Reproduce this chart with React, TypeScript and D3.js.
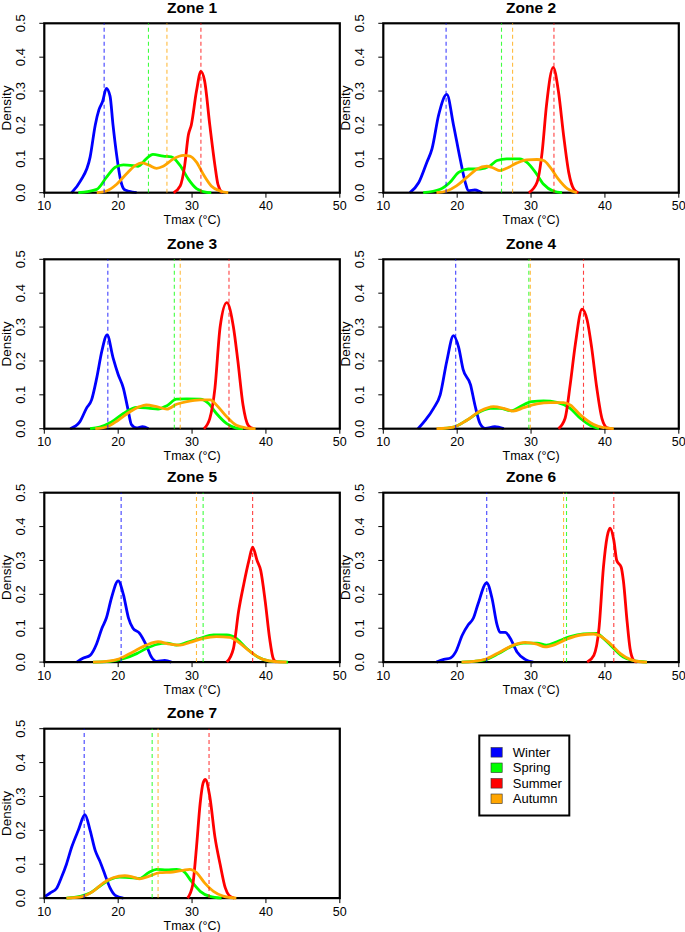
import React from 'react';
import * as d3 from 'd3';

type Pt = [number, number];

const zones = ['Zone 1', 'Zone 2', 'Zone 3', 'Zone 4', 'Zone 5', 'Zone 6', 'Zone 7'];
const seasons = ['Winter', 'Spring', 'Summer', 'Autumn'];
const seasonColors = ['#0000FF', '#00FF00', '#FF0000', '#FFA500'];
const xTicks = [10, 20, 30, 40, 50];
const yTicks = [0, 0.1, 0.2, 0.3, 0.4, 0.5];

// density curves, one list per zone
const winterDensity: Pt[][] = [
    [[13.7, 0], [14.9, 0.035], [16.2, 0.105], [16.9, 0.2], [17.4, 0.245], [17.9, 0.27], [18.4, 0.308], [18.9, 0.285], [19.3, 0.2], [19.8, 0.11], [20.3, 0.04], [20.8, 0.01], [21.5, 0.004], [22.5, 0]],
    [[13.6, 0], [14.8, 0.03], [15.9, 0.09], [16.6, 0.13], [17.5, 0.23], [18.6, 0.29], [19.5, 0.2], [20.4, 0.1], [21.1, 0.03], [21.5, 0.006], [22.4, 0.008], [23.1, 0.003], [23.4, 0]],
    [[13.5, 0], [14.8, 0.02], [15.7, 0.06], [16.4, 0.085], [17.1, 0.15], [17.8, 0.23], [18.5, 0.277], [19.3, 0.21], [20, 0.16], [20.7, 0.12], [21.3, 0.06], [21.8, 0.012], [22.5, 0.002], [23.3, 0.006], [24.1, 0]],
    [[14.7, 0], [15.7, 0.025], [16.8, 0.06], [17.7, 0.1], [18.6, 0.2], [19.5, 0.275], [20.2, 0.24], [20.8, 0.175], [21.8, 0.13], [22.4, 0.07], [23.1, 0.015], [23.8, 0.001], [25.1, 0.006], [26.3, 0]],
    [[14.4, 0], [15.3, 0.012], [16.2, 0.02], [17.1, 0.055], [17.8, 0.1], [18.4, 0.13], [19.1, 0.19], [20, 0.24], [20.7, 0.2], [21.4, 0.13], [22, 0.1], [22.9, 0.085], [23.8, 0.05], [24.5, 0.015], [25.2, 0.002], [26.3, 0.005], [27.2, 0]],
    [[17.2, 0], [18.2, 0.008], [19.1, 0.012], [19.8, 0.03], [20.7, 0.08], [21.5, 0.11], [22.2, 0.13], [22.8, 0.17], [24, 0.234], [24.7, 0.19], [25.4, 0.11], [25.8, 0.088], [26.5, 0.088], [27.2, 0.07], [28.1, 0.03], [29.2, 0.008], [30.3, 0]],
    [[10.1, 0.005], [10.8, 0.015], [11.7, 0.03], [12.3, 0.06], [13, 0.1], [13.7, 0.15], [14.6, 0.2], [15.5, 0.246], [16.2, 0.2], [16.9, 0.14], [17.5, 0.11], [18.2, 0.07], [18.9, 0.03], [19.6, 0.008], [20.7, 0]],
];

const springDensity: Pt[][] = [
    [[14.6, 0], [17.1, 0.01], [18.4, 0.045], [19.6, 0.075], [20.7, 0.082], [22, 0.08], [22.7, 0.078], [23.8, 0.1], [24.7, 0.113], [26.1, 0.108], [27.2, 0.106], [28.4, 0.08], [29.5, 0.04], [30.6, 0.012], [32, 0.001], [32.6, 0]],
    [[15.4, 0], [17.7, 0.01], [19, 0.03], [20.2, 0.06], [21.5, 0.07], [23.1, 0.07], [24.5, 0.08], [25.4, 0.095], [26.7, 0.1], [28.5, 0.1], [29.4, 0.09], [30.6, 0.06], [31.7, 0.025], [33, 0.005], [34.2, 0]],
    [[16.2, 0], [17.5, 0.005], [19.1, 0.02], [20.7, 0.045], [22.5, 0.063], [24.3, 0.06], [25.4, 0.058], [26.6, 0.068], [27.9, 0.087], [29.3, 0.088], [31.1, 0.087], [32.2, 0.075], [33.3, 0.045], [34.7, 0.015], [36, 0.002], [36.9, 0]],
    [[17.5, 0], [19.5, 0.005], [21.3, 0.025], [23.1, 0.05], [24.5, 0.06], [25.8, 0.06], [27.4, 0.053], [28.5, 0.065], [30.1, 0.08], [31.7, 0.082], [33.5, 0.078], [35.3, 0.06], [36.7, 0.03], [38, 0.01], [39.2, 0]],
    [[16.6, 0], [18.9, 0.002], [20.7, 0.01], [22.5, 0.025], [23.8, 0.04], [25.2, 0.052], [26.6, 0.056], [27.9, 0.05], [29.3, 0.058], [31.1, 0.07], [32.9, 0.08], [34.7, 0.08], [36, 0.07], [37.4, 0.04], [38.9, 0.015], [40.5, 0.003], [43, 0]],
    [[20.6, 0], [22.2, 0.002], [24, 0.008], [25.6, 0.025], [27.2, 0.045], [29, 0.056], [30.8, 0.056], [32.1, 0.05], [33.5, 0.06], [35.3, 0.075], [37.1, 0.083], [38.9, 0.085], [39.8, 0.07], [41.2, 0.04], [42.5, 0.015], [43.9, 0.004], [45.7, 0]],
    [[13, 0], [14.8, 0.005], [16.2, 0.015], [17.5, 0.035], [18.9, 0.055], [20.2, 0.062], [22, 0.06], [22.9, 0.058], [24.1, 0.075], [25.2, 0.085], [26.6, 0.083], [27.9, 0.085], [28.8, 0.08], [29.9, 0.05], [31.1, 0.02], [32.4, 0.005], [34, 0]],
];

const summerDensity: Pt[][] = [
    [[27.5, 0], [28.4, 0.02], [29, 0.08], [29.5, 0.17], [29.9, 0.2], [30.6, 0.3], [31.2, 0.358], [31.7, 0.33], [32.4, 0.2], [33.1, 0.08], [33.5, 0.025], [34.1, 0]],
    [[29.7, 0], [30.8, 0.03], [31.5, 0.12], [32.1, 0.26], [33, 0.37], [33.7, 0.3], [34.4, 0.17], [35.1, 0.06], [35.8, 0.01], [36.4, 0]],
    [[31.6, 0], [32.4, 0.03], [33.1, 0.12], [33.8, 0.3], [34.7, 0.372], [35.6, 0.3], [36.2, 0.2], [36.9, 0.07], [37.6, 0.01], [38.3, 0]],
    [[33.7, 0], [34.6, 0.03], [35.3, 0.13], [36, 0.25], [36.9, 0.353], [37.6, 0.32], [38.2, 0.24], [38.9, 0.12], [39.6, 0.03], [40.3, 0.003], [41, 0]],
    [[34.7, 0], [35.6, 0.04], [36.3, 0.15], [37, 0.23], [37.7, 0.3], [38.2, 0.339], [38.8, 0.3], [39.3, 0.27], [39.9, 0.18], [40.5, 0.07], [41, 0.01], [41.4, 0]],
    [[37.6, 0], [38.5, 0.02], [39.2, 0.1], [39.8, 0.28], [40.3, 0.37], [40.7, 0.395], [41.2, 0.36], [41.6, 0.3], [42.2, 0.28], [42.5, 0.24], [43, 0.12], [43.4, 0.04], [43.9, 0.005], [44.3, 0]],
    [[29.4, 0], [30.1, 0.04], [30.6, 0.15], [31.1, 0.28], [31.5, 0.34], [31.8, 0.35], [32.4, 0.3], [33.1, 0.18], [33.8, 0.1], [34.5, 0.03], [35, 0.008], [35.7, 0]],
];

const autumnDensity: Pt[][] = [
    [[17.1, 0], [18.4, 0.005], [19.8, 0.025], [21.1, 0.055], [22.3, 0.08], [23.2, 0.088], [24.1, 0.082], [25.2, 0.072], [26.1, 0.078], [27.5, 0.1], [28.8, 0.11], [29.7, 0.108], [30.6, 0.09], [31.5, 0.055], [32.6, 0.02], [33.8, 0.005], [34.9, 0]],
    [[17.2, 0], [18.6, 0.005], [19.9, 0.02], [21.3, 0.045], [22.7, 0.07], [24, 0.078], [24.9, 0.073], [25.8, 0.065], [26.7, 0.072], [28.1, 0.088], [29.4, 0.097], [30.8, 0.098], [31.7, 0.095], [32.6, 0.075], [33.7, 0.04], [34.9, 0.012], [36.2, 0]],
    [[16.9, 0], [18.4, 0.005], [20, 0.025], [21.6, 0.05], [22.9, 0.065], [23.8, 0.07], [25.2, 0.065], [26.6, 0.058], [27.9, 0.072], [29.3, 0.08], [31.1, 0.085], [32.5, 0.085], [33.3, 0.07], [34.7, 0.035], [36, 0.01], [37.4, 0.002], [38.6, 0]],
    [[17.2, 0], [19.5, 0.005], [21.3, 0.025], [23.1, 0.052], [24.9, 0.065], [26.3, 0.06], [27.6, 0.052], [29, 0.062], [30.8, 0.073], [32.6, 0.077], [34.4, 0.077], [35.3, 0.07], [36.7, 0.04], [38.5, 0.012], [39.8, 0.003], [41.2, 0]],
    [[16.6, 0], [18.4, 0.002], [20.2, 0.01], [22, 0.03], [23.8, 0.05], [25.4, 0.06], [27, 0.053], [28.4, 0.05], [29.7, 0.058], [31.5, 0.07], [33.3, 0.075], [35.1, 0.073], [36.5, 0.055], [37.9, 0.03], [39.6, 0.008], [41.4, 0.001], [42.8, 0]],
    [[20.6, 0], [22.2, 0.002], [24, 0.01], [25.8, 0.03], [27.6, 0.05], [29.2, 0.058], [30.8, 0.053], [31.9, 0.045], [33.3, 0.052], [34.9, 0.068], [36.7, 0.08], [38.5, 0.083], [39.3, 0.078], [40.7, 0.055], [42.1, 0.025], [43.4, 0.008], [44.8, 0.001], [45.7, 0]],
    [[13, 0], [14.8, 0.003], [16.6, 0.02], [18, 0.045], [19.3, 0.06], [20.9, 0.066], [22, 0.062], [22.9, 0.057], [24.2, 0.065], [25.6, 0.075], [27.4, 0.077], [28.8, 0.082], [29.7, 0.085], [30.6, 0.075], [31.7, 0.045], [32.9, 0.02], [34.2, 0.006], [36, 0]],
];

// seasonal means (dashed lines)
const winterMean = [18.1, 18.5, 18.6, 19.8, 20.4, 24.0, 15.4];
const springMean = [24.1, 26.0, 27.6, 29.7, 31.5, 34.8, 24.6];
const summerMean = [31.2, 33.1, 35.0, 37.1, 38.2, 41.2, 32.3];
const autumnMean = [26.6, 27.5, 28.4, 29.9, 30.6, 34.4, 25.4];

const W = 685;
const H = 932;
const FONT = '"Liberation Sans", Arial, Helvetica, sans-serif';
const colLeft = [44.3, 383.3];
const rowTop = [23.3, 259.3, 492.7, 728.7];
const panelW = 295.5;
const panelH = 169.4;

const densityBySeason = [winterDensity, springDensity, summerDensity, autumnDensity];
const meanBySeason = [winterMean, springMean, summerMean, autumnMean];

const Panel: React.FC<{ zi: number }> = ({ zi }) => {
    const left = colLeft[zi % 2];
    const top = rowTop[Math.floor(zi / 2)];
    const x = d3.scaleLinear().domain([10, 50]).range([0, panelW]);
    const y = d3.scaleLinear().domain([0, 0.5]).range([panelH, 0]);
    const line = d3
        .line<Pt>()
        .x((d) => x(d[0]))
        .y((d) => y(d[1]))
        .curve(d3.curveMonotoneX);

    return (
        <g transform={`translate(${left},${top})`}>
            <text
                x={panelW / 2}
                y={-10.5}
                textAnchor="middle"
                fontWeight="bold"
                fontSize={15.5}
            >
                {zones[zi]}
            </text>
            {/* first curve sits under the frame, like plot() */}
            <path
                d={line(densityBySeason[0][zi]) || ''}
                fill="none"
                stroke={seasonColors[0]}
                strokeWidth={2.8}
                strokeLinejoin="round"
            />
            <rect
                x={0}
                y={0}
                width={panelW}
                height={panelH}
                fill="none"
                stroke="#000"
                strokeWidth={2.2}
            />
            {densityBySeason.slice(1).map((s, i) => (
                <path
                    key={i}
                    d={line(s[zi]) || ''}
                    fill="none"
                    stroke={seasonColors[i + 1]}
                    strokeWidth={2.8}
                    strokeLinejoin="round"
                />
            ))}
            {meanBySeason.map((m, i) => (
                <line
                    key={'m' + i}
                    x1={x(m[zi])}
                    x2={x(m[zi])}
                    y1={y(0)}
                    y2={y(0.5)}
                    stroke={seasonColors[i]}
                    strokeOpacity={0.75}
                    strokeWidth={1.1}
                    strokeDasharray="4,3"
                />
            ))}
            {xTicks.map((t) => (
                <g key={'x' + t} transform={`translate(${x(t)},${panelH})`}>
                    <line y1={0} y2={5} stroke="#000" strokeWidth={1} />
                    <text y={17.8} textAnchor="middle" fontSize={12.5}>
                        {t}
                    </text>
                </g>
            ))}
            {yTicks.map((t) => (
                <g key={'y' + t} transform={`translate(0,${y(t)})`}>
                    <line x1={-5} x2={0} stroke="#000" strokeWidth={1} />
                    <text
                        transform="translate(-23.5,0) rotate(-90)"
                        textAnchor="middle"
                        dy="0.35em"
                        fontSize={13}
                    >
                        {t.toFixed(1)}
                    </text>
                </g>
            ))}
            <text x={panelW / 2} y={panelH + 31.8} textAnchor="middle" fontSize={12.5}>
                Tmax (°C)
            </text>
            <text
                transform={`translate(${-38.5},${panelH / 2}) rotate(-90)`}
                textAnchor="middle"
                dy="0.35em"
                fontSize={13.5}
            >
                Density
            </text>
        </g>
    );
};

const Legend: React.FC = () => {
    const rows = d3.scalePoint<string>().domain(seasons).range([752.3, 798.8]);
    return (
        <g>
            <rect x={479.3} y={735.5} width={90} height={80} fill="#fff" stroke="#000" strokeWidth={2} />
            {seasons.map((s, i) => (
                <g key={s} transform={`translate(0,${rows(s)})`}>
                    <rect
                        x={491}
                        y={-4.8}
                        width={11.2}
                        height={9.6}
                        fill={seasonColors[i]}
                        stroke="#333"
                        strokeWidth={0.6}
                    />
                    <text x={512.8} dy="0.35em" fontSize={13}>
                        {s}
                    </text>
                </g>
            ))}
        </g>
    );
};

export default function App() {
    return (
        <div style={{ position: 'absolute', left: 0, top: 0 }}>
            <svg width={W} height={H} fontFamily={FONT} style={{ display: 'block', background: '#fff' }}>
                {zones.map((z, i) => (
                    <Panel key={z} zi={i} />
                ))}
                <Legend />
            </svg>
        </div>
    );
}
